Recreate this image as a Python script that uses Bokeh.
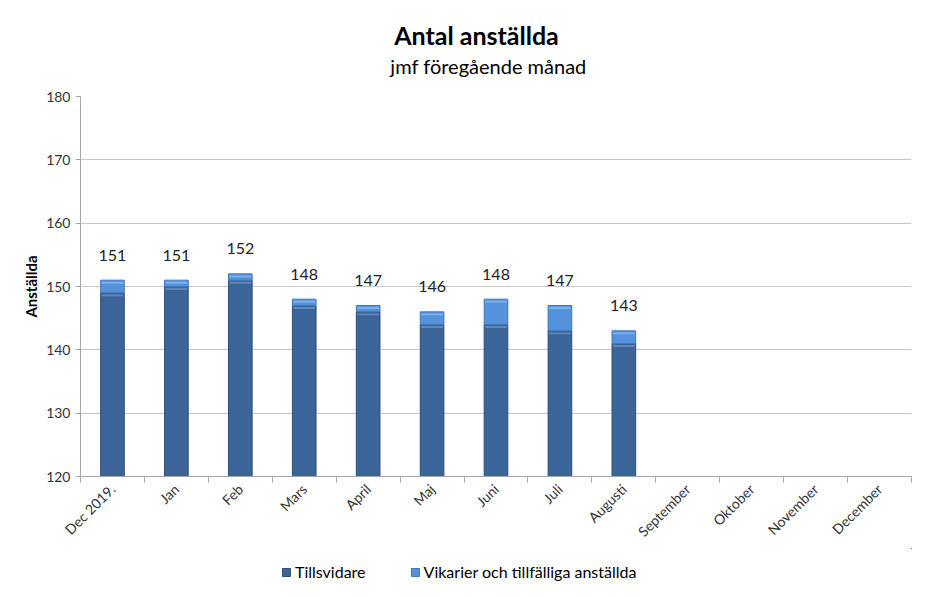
import math
from bokeh.plotting import figure
from bokeh.layouts import column
from bokeh.models import (ColumnDataSource, FixedTicker, Legend, LegendItem,
                          Range1d, Label)
from bokeh.core.properties import value
from bokeh.embed import file_html
from bokeh.resources import INLINE

title_text = "Antal anställda"
subtitle_text = "jmf föregående månad"
months = ["Dec 2019.", "Jan", "Feb", "Mars", "April", "Maj", "Juni", "Juli",
          "Augusti", "September", "Oktober", "November", "December"]
tillsvidare = [149, 150, 151, 147, 146, 144, 144, 143, 141]
vikarier = [2, 1, 1, 1, 1, 2, 4, 4, 2]
totals = [151, 151, 152, 148, 147, 146, 148, 147, 143]
y_ticks = [120, 130, 140, 150, 160, 170, 180]
series_names = ["Tillsvidare", "Vikarier och tillfälliga anställda"]

FONT = "Lato"
DARK = "#3b6499"
LIGHT = "#5592dc"
W = 918
BL, BR = 80, 7   # left / right borders shared by all stacked figures

n = len(tillsvidare)
src = ColumnDataSource(dict(
    x=list(range(n)),
    base=[y_ticks[0]] * n,
    till=tillsvidare,
    total=totals,
    till_hl_top=[t - 0.25 for t in tillsvidare],
    till_hl_bot=[t - 0.55 for t in tillsvidare],
    tot_hl_top=[t - 0.25 for t in totals],
    tot_hl_bot=[t - 0.55 for t in totals],
    label=[str(t) for t in totals],
))

# ---------- header with titles ----------
HH = 80
head = figure(width=W, height=HH, output_backend="svg", toolbar_location=None,
              x_range=Range1d(BL, W - BR), y_range=Range1d(0, HH),
              x_axis_type=None, y_axis_type=None, min_border=0,
              min_border_left=BL, min_border_right=BR)
head.outline_line_color = None
head.grid.visible = False
head.add_layout(Label(x=476, y=HH - 34, text=title_text, text_align="center",
                      text_baseline="middle", text_font=FONT, text_font_size="25px",
                      text_font_style="bold", text_color="#000000"))
head.add_layout(Label(x=488, y=HH - 65, text=subtitle_text, text_align="center",
                      text_baseline="middle", text_font=FONT, text_font_size="20px",
                      text_color="#000000"))

# ---------- main chart ----------
p = figure(width=W, height=468, output_backend="svg", toolbar_location=None,
           x_range=Range1d(-0.5, len(months) - 0.5),
           y_range=Range1d(y_ticks[0], y_ticks[-1]),
           min_border_left=BL, min_border_right=BR, min_border_top=16,
           min_border_bottom=70)
p.outline_line_color = None

bw = 0.37
p.vbar(x="x", bottom="base", top="till", width=bw, source=src,
       fill_color=DARK, line_color="#2c4f7c", line_width=1)
p.vbar(x="x", bottom="till", top="total", width=bw, source=src,
       fill_color=LIGHT, line_color="#3f78bd", line_width=1)
p.vbar(x="x", bottom="till_hl_bot", top="till_hl_top", width=bw - 0.03, source=src,
       fill_color="#6d90bd", line_color=None, fill_alpha=0.8)
p.vbar(x="x", bottom="tot_hl_bot", top="tot_hl_top", width=bw - 0.03, source=src,
       fill_color="#8ab9ef", line_color=None, fill_alpha=0.8)

p.text(x="x", y="total", text="label", source=src, y_offset=-25,
       text_align="center", text_baseline="middle", text_font=value(FONT),
       text_font_size="16px", text_color="#222222")

p.yaxis.ticker = FixedTicker(ticks=y_ticks)
p.yaxis.axis_label = "Anställda"
p.yaxis.axis_label_text_font = FONT
p.yaxis.axis_label_text_font_style = "bold"
p.yaxis.axis_label_text_font_size = "15px"
p.yaxis.axis_label_text_color = "#000000"
p.yaxis.axis_label_standoff = 3
p.yaxis.major_label_text_font = FONT
p.yaxis.major_label_text_font_size = "14px"
p.yaxis.major_label_text_color = "#333333"
p.yaxis.axis_line_color = "#a6a6a6"
p.yaxis.major_tick_line_color = "#a6a6a6"
p.yaxis.major_tick_out = 5
p.yaxis.major_tick_in = 0
p.yaxis.minor_tick_line_color = None

p.xaxis.ticker = FixedTicker(ticks=list(range(len(months))),
                             minor_ticks=[i - 0.5 for i in range(len(months) + 1)])
p.xaxis.major_label_overrides = {i: m for i, m in enumerate(months)}
p.xaxis.major_label_orientation = math.pi / 4
p.xaxis.major_label_text_font = FONT
p.xaxis.major_label_text_font_size = "14px"
p.xaxis.major_label_text_color = "#333333"
p.xaxis.major_tick_line_color = None
p.xaxis.minor_tick_line_color = "#a6a6a6"
p.xaxis.minor_tick_out = 6
p.xaxis.minor_tick_in = 0
p.xaxis.axis_line_color = "#a6a6a6"
p.xaxis.major_label_standoff = 4

p.xgrid.grid_line_color = None
p.ygrid.grid_line_color = "#c8c8c8"
p.ygrid.ticker = FixedTicker(ticks=y_ticks)

# ---------- legend strip ----------
LH = 33
# ranges chosen so the strip's copies of the bars fall far outside its canvas;
# only the legend swatches are seen
leg = figure(width=W, height=LH, output_backend="svg", toolbar_location=None,
             x_range=Range1d(-1000, -999), y_range=Range1d(0, 1),
             x_axis_type=None, y_axis_type=None, min_border=0,
             min_border_left=BL, min_border_right=BR)
leg.outline_line_color = None
leg.grid.visible = False
d1 = leg.vbar(x="x", bottom="base", top="till", width=bw, source=src,
              fill_color=DARK, line_color="#2c4f7c")
d2 = leg.vbar(x="x", bottom="till", top="total", width=bw, source=src,
              fill_color=LIGHT, line_color="#3f78bd")
legend = Legend(items=[LegendItem(label=series_names[0], renderers=[d1]),
                       LegendItem(label=series_names[1], renderers=[d2])],
                orientation="horizontal", location=(201, 0),
                label_text_font=FONT, label_text_font_size="16px",
                label_text_color="#000000", glyph_width=10, glyph_height=10,
                spacing=44, border_line_color=None, background_fill_alpha=0,
                margin=0, padding=0, label_standoff=4)
leg.add_layout(legend, "center")

layout = column(head, p, leg, spacing=0)
open("out.html", "w").write(file_html(layout, INLINE))
